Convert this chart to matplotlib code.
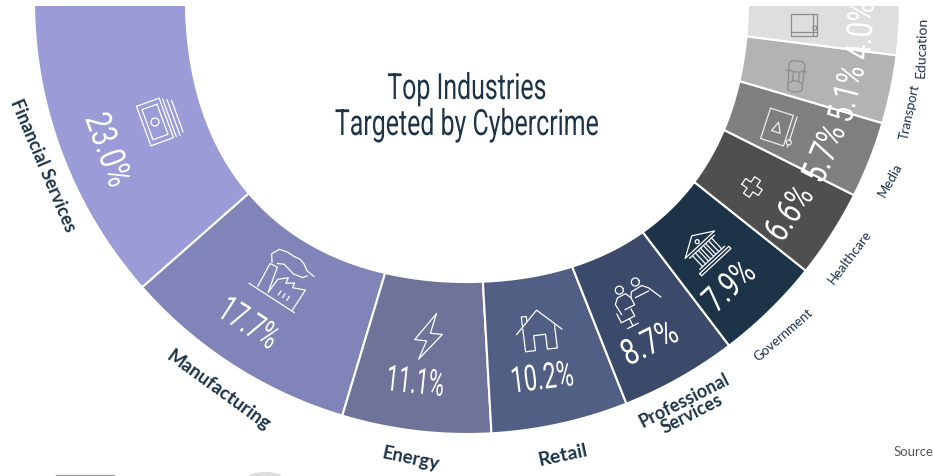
import numpy as np
import matplotlib
matplotlib.use('Agg')
import matplotlib.pyplot as plt
import matplotlib.patheffects as pe
from matplotlib.patches import Polygon, Ellipse
from matplotlib.transforms import Affine2D

# chart values
industries = ['Financial Services', 'Manufacturing', 'Energy', 'Retail', 'Professional\nServices',
              'Government', 'Healthcare', 'Media', 'Transport', 'Education']
shares = [23.0, 17.7, 11.1, 10.2, 8.7, 7.9, 6.6, 5.7, 5.1, 4.0]
title_text = 'Top Industries\nTargeted by Cybercrime'
source_text = 'Source'

# style and layout, all in reference pixels
colors = ['#9b9bd8', '#8084b9', '#6f7399', '#525f85', '#3b4a6b',
          '#1c3348', '#4f4f4f', '#7f7f7f', '#b3b3b3', '#dedede']
icon_colors = ['white'] * 7 + ['#eeeeee', '#8c8c8c', '#8c8c8c']
pct_pos = [(107, 151), (248, 325), (415, 384), (542, 380), (650, 345),
           (730, 288), (790, 215), (825, 155), (848, 95), (862, 32)]
pct_rot = [-70, -33, -6, 7, 27, 43, 56, 67, 76, 86]
pct_squeeze = [.78, .67, .6, .65, .77, .74, .76, .78, .75, .75]
label_pos = [(43, 165), (218, 390), (411, 459), (563, 455), (688, 407),
             (783, 335), (850, 257), (890, 180), (910, 112), (922, 47)]
label_rot = [-67, -36, -12, 12, 27, 41, 53, 61, 78, 88]
label_size = [13, 13.5, 13.5, 14, 13, 9.5, 9.5, 9.5, 9.5, 10]
icon_pos = [(155, 123), (282, 283), (428, 338), (539, 331), (635, 300),
            (704, 250), (752, 188), (777, 128), (796, 77), (804, 26)]
icon_rot = [-70, -33, -6, 7, 27, 43, 56, 72, 85, 0]
CX, CY, R_OUT, R_IN, BULGE = 467, 2, 433, 281, 10
NARROW = ['Roboto', 'DejaVu Sans']
GEO = ['Lato', 'DejaVu Sans']
DARK = '#1c3348'


class Squeeze(pe.AbstractPathEffect):
    # narrows a text line around its own middle, no condensed font is installed
    def __init__(self, sx):
        super().__init__()
        self.sx = sx

    def draw_path(self, renderer, gc, tpath, affine, rgbFace=None):
        mid = tpath.get_extents().x0 + tpath.get_extents().width / 2
        squeezed = tpath.transformed(Affine2D().translate(-mid, 0).scale(self.sx, 1).translate(mid, 0))
        renderer.draw_path(gc, squeezed, affine, rgbFace)


def arc(cx, cy, r, a1=0, a2=360, n=40):
    t = np.radians(np.linspace(a1, a2, n))
    return list(zip(cx + r * np.cos(t), cy + r * np.sin(t)))


def ring_piece(a1, a2):
    # inner edge of the ring is not quite round in the reference, it bulges at the diagonals
    t = np.radians(np.linspace(a1, a2, 60))
    r_in = R_IN + BULGE * np.sin(2 * t) ** 2
    outer = np.column_stack([CX + R_OUT * np.cos(t), CY + R_OUT * np.sin(t)])
    inner = np.column_stack([CX + r_in * np.cos(t), CY + r_in * np.sin(t)])
    return np.vstack([outer, inner[::-1]])


# icons as little polylines, local coords in px with y down
ICONS = {
    'money': [[(-21, -12), (21, -12), (21, 12), (-21, 12), (-21, -12)],
              [(-16, -8), (16, -8), (16, 8), (-16, 8), (-16, -8)],
              arc(0, 0, 4),
              [(-19, -15), (21, -15)], [(-17, -19), (21, -19)], [(-15, -23), (19, -23)]],
    'factory': [[(-27, 19), (27, 19)],
                [(-18, 17), (-20, -9), (-12, -10), (-6, 16)],
                [(-6, 16), (-5, 0), (3, -7), (4, -1), (11, -6), (12, -1), (24, -6), (24, 18)],
                [(-19, -11), (-24, -18), (-20, -26), (-12, -28), (-4, -28), (3, -29), (9, -27), (15, -23), (24, -22)],
                [(-14, -13), (-8, -16), (-3, -15), (5, -13), (15, -15), (18, -19)],
                [(4, 8), (4, 13)], [(9, 8), (9, 13)], [(14, 8), (14, 13)]],
    'bolt': [[(6, -24), (-13, 4), (-1, 4), (-7, 23), (14, -4), (2, -4), (6, -24)]],
    'house': [[(-23, 2), (0, -20), (23, 2)],
              [(-16, -5), (-16, -15), (-11, -15), (-11, -10)],
              [(-16, -3), (-16, 20), (-6, 20), (-6, 5), (6, 5), (6, 20), (16, 20), (16, -3)]],
    'people': [arc(-10, -15, 4), arc(8, -15, 4),
               [(-19, 8), (-20, -4), (-15, -9), (-6, -9), (-3, -3), (-3, 5), (-14, 5)],
               [(-3, -3), (0, -8), (12, -9), (17, -4), (24, 10)],
               [(1, -1), (16, -1)],
               [(-23, 5), (-23, 15), (-8, 15), (-8, 7)], [(-14, 15), (-14, 23)], [(-20, 23), (-8, 23)]],
    'bank': [[(-20, -6), (0, -18), (20, -6), (-20, -6)], arc(0, -10, 2),
             [(-17, -3), (17, -3)], [(-17, 12), (17, 12)], [(-20, 15), (20, 15), (20, 18), (-20, 18), (-20, 15)],
             [(-13, -3), (-13, 12)], [(-9, -3), (-9, 12)], [(-5, -3), (-5, 12)], [(-2, -3), (-2, 12)],
             [(2, -3), (2, 12)], [(5, -3), (5, 12)], [(9, -3), (9, 12)], [(13, -3), (13, 12)]],
    'plus': [[(-3.5, -10), (3.5, -10), (3.5, -3.5), (10, -3.5), (10, 3.5), (3.5, 3.5), (3.5, 10), (-3.5, 10),
              (-3.5, 3.5), (-10, 3.5), (-10, -3.5), (-3.5, -3.5), (-3.5, -10)]],
    'tablet': [[(-16, -12), (16, -12), (16, 12), (-16, 12), (-16, -12)],
               [(-5, -4), (5, 0), (-5, 5), (-5, -4)],
               [(-8, 16), (16, 16)], [(-16, 16), (-14, 16)], arc(-11, 16, 2.5)],
    'car': [[(-14, -7), (12, -8), (15, -5), (15, 5), (12, 8), (-14, 7), (-16, 3), (-16, -3), (-14, -7)],
            [(-8, -7), (-5, -3), (-5, 3), (-8, 7)],
            [(6, -8), (4, -3), (4, 3), (6, 8)],
            [(-5, -3), (4, -3)], [(-5, 3), (4, 3)],
            [(5, -8), (5, -10)], [(5, 8), (5, 10)]],
    'book': [[(-13, -11), (13, -11), (13, 11), (-13, 11), (-13, -11)],
             [(-13, 7), (13, 7)], [(9, -11), (9, 11)], arc(11, 3, 2)],
}
icon_names = ['money', 'factory', 'bolt', 'house', 'people', 'bank', 'plus', 'tablet', 'car', 'book']

fig = plt.figure(figsize=(9.33, 4.77), dpi=100)
# the ring is cut off flat 7px below the top edge
ax = fig.add_axes([0, 0, 1, 470 / 477])
ax.set_xlim(0, 933)
ax.set_ylim(477, 7)
ax.axis('off')

# the half ring, one piece per industry, starting from the left
ends = 180 - np.cumsum(shares) * 1.8
starts = np.concatenate([[180], ends[:-1]])
for a1, a2, c in zip(ends, starts, colors):
    ax.add_patch(Polygon(ring_piece(a1, a2), closed=True, facecolor=c, edgecolor='white', linewidth=1.5))

for i, v in enumerate(shares):
    ax.text(pct_pos[i][0], pct_pos[i][1], f'{v:.1f}%', color='white', fontsize=26, family=NARROW,
            ha='center', va='center', rotation=pct_rot[i], rotation_mode='anchor', clip_on=True,
            path_effects=[Squeeze(pct_squeeze[i])])

for i, name in enumerate(industries):
    ax.text(label_pos[i][0], label_pos[i][1], name, color=DARK, fontsize=label_size[i], family=GEO,
            weight='bold' if i < 5 else 'normal', ha='center', va='center', linespacing=0.85,
            rotation=label_rot[i], rotation_mode='anchor')

for i, name in enumerate(icon_names):
    a = np.radians(icon_rot[i])
    for line in ICONS[name]:
        xy = np.array(line, dtype=float)
        px = icon_pos[i][0] + xy[:, 0] * np.cos(a) + xy[:, 1] * np.sin(a)
        py = icon_pos[i][1] - xy[:, 0] * np.sin(a) + xy[:, 1] * np.cos(a)
        ax.plot(px, py, color=icon_colors[i], lw=0.9, solid_capstyle='round', solid_joinstyle='round')

ax.text(467, 108, title_text, color=DARK, fontsize=26, family=NARROW, ha='center', va='center',
        linespacing=1.0, path_effects=[Squeeze(0.69)])
ax.text(894, 452, source_text, color='#555555', fontsize=9.5, family=GEO, ha='left', va='center')

# bits of the next picture showing at the bottom edge of the crop
ax.plot([56, 114], [476, 476], color='#9a9a9a', lw=1)
ax.add_patch(Ellipse((265, 478), 34, 10, facecolor='#dddddd', edgecolor='none'))

fig.savefig('out.png', dpi=100)
